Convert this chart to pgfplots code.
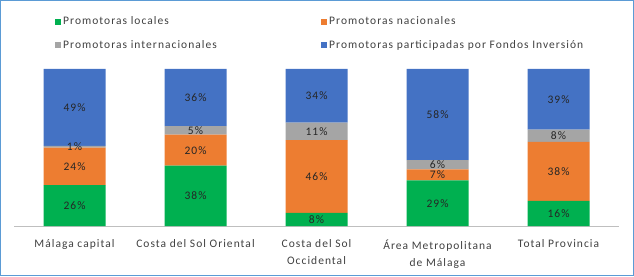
\documentclass[border=0pt]{standalone}
\usepackage{pgfplots}
\pgfplotsset{compat=1.18}
\usepackage{pgfplotstable}
\usepackage{fontspec}
\setmainfont{Carlito}[LetterSpace=9]
\definecolor{cgreen}{HTML}{00B050}
\definecolor{corange}{HTML}{ED7D31}
\definecolor{cgray}{HTML}{A5A5A5}
\definecolor{cblue}{HTML}{4472C4}
\definecolor{cframe}{HTML}{5B9BD5}
\definecolor{ctext}{HTML}{404040}
\definecolor{caxis}{HTML}{BFBFBF}
\pgfplotstableread{
x loc nac int fon lloc lnac lint lfon
0 26   24   1    49   26\% 24\% 1\%  49\%
1 38.4 19.8 5.4  36.4 38\% 20\% 5\%  36\%
2 8.3  46.4 11.1 34.2 8\%  46\% 11\% 34\%
3 29   7    6    58   29\% 7\%  6\%  58\%
4 16   37.6 7.8  38.6 16\% 38\% 8\%  39\%
}\data
\begin{document}
\begin{tikzpicture}[x=1pt,y=1pt]
\useasboundingbox (0,0) rectangle (634,276);
\begin{axis}[
  at={(14pt,50pt)}, anchor=south west,
  scale only axis, width=605pt, height=157pt,
  ybar stacked, bar width=62pt,
  xmin=-0.5, xmax=4.5, ymin=0, ymax=100,
  axis y line=none,
  axis x line*=bottom,
  x axis line style={draw=caxis},
  xtick={0,1,2,3,4},
  xticklabels={Málaga capital, Costa del Sol Oriental, {Costa del Sol\\Occidental}, {Área Metropolitana\\de Málaga}, Total Provincia},
  xticklabel style={align=center, font=\fontsize{11.5}{17}\selectfont, text=ctext, yshift=-10pt},
  major tick length=0pt,
  nodes near coords,
  point meta=explicit symbolic,
  every node near coord/.append style={anchor=center, font=\fontsize{11.5}{13}\selectfont, text=black!85},
  legend columns=2,
  legend style={at={(rel axis cs:0,1)}, anchor=south west, draw=none, fill=none,
    font=\fontsize{11.5}{13}\selectfont, text=ctext,
    row sep=10pt, column sep=0pt,
    xshift=38pt, yshift=15pt},
  legend cell align=left,
  legend image code/.code={\fill[#1] (0pt,-3pt) rectangle (6pt,3pt);},
]
\addplot[fill=cgreen, draw=none]
  table[x=x, y=loc, meta=lloc] {\data};
\addlegendentry{\makebox[256pt][l]{Promotoras locales}}
\addplot[fill=corange, draw=none]
  table[x=x, y=nac, meta=lnac] {\data};
\addlegendentry{Promotoras nacionales}
\addplot[fill=cgray, draw=none]
  table[x=x, y=int, meta=lint] {\data};
\addlegendentry{\makebox[256pt][l]{Promotoras internacionales}}
\addplot[fill=cblue, draw=none]
  table[x=x, y=fon, meta=lfon] {\data};
\addlegendentry{Promotoras participadas por Fondos Inversión}
\end{axis}
\draw[cframe, line width=1pt] (0.5,0.5) rectangle (633.5,275.5);
\end{tikzpicture}
\end{document}
